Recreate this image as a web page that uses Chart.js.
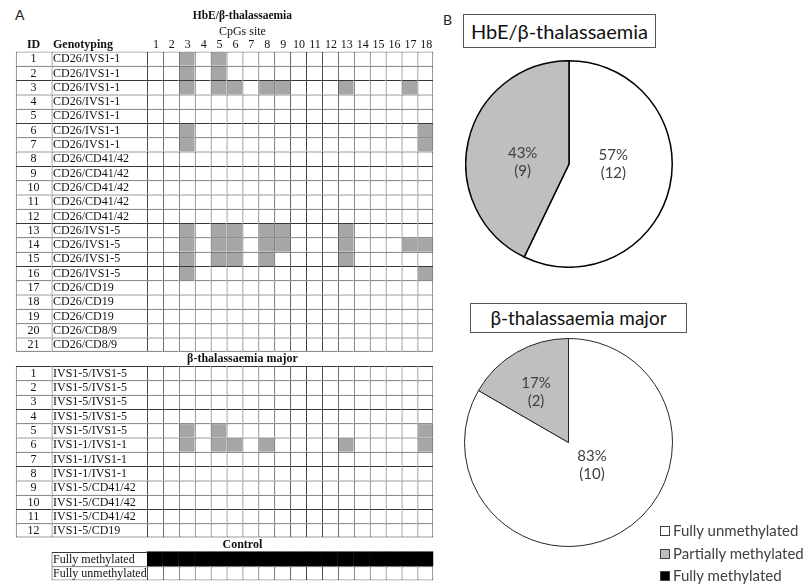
<!DOCTYPE html>
<html>
<head>
<meta charset="utf-8">
<title>Methylation of CpG sites</title>
<script src="https://cdn.jsdelivr.net/npm/chart.js@4.4.1/dist/chart.umd.min.js"></script>
<style>
  body { margin: 0; width: 803px; height: 585px; position: relative; overflow: hidden; background: #fff; font-family: Lato, "Open Sans", sans-serif; }
  .abs { position: absolute; }
  .panel { font-size: 14px; color: #222; }
  .pieTitle { border: 1px solid #555; box-sizing: border-box; color: #111; font-size: 20px; text-align: center; }
  #legend { left: 660px; top: 519px; font-size: 15px; color: #404040; }
  #legend div { height: 22.5px; line-height: 22px; white-space: nowrap; }
  #legend span.box { display: inline-block; width: 8px; height: 8px; border: 1px solid #404040; margin-right: 3px; vertical-align: 0px; }
</style>
</head>
<body>
<div class="abs panel" style="left:15px; top:6px;">A</div>
<div class="abs panel" style="left:443px; top:11px;">B</div>

<div class="abs" style="left:0; top:0; width:440px; height:585px;"><canvas id="table-chart"></canvas></div>

<div class="abs pieTitle" style="left:463px; top:14px; width:193px; height:34px; line-height:32px;">HbE/β-thalassaemia</div>
<div class="abs" style="left:465px; top:60px; width:208px; height:208px;"><canvas id="hbe-pie"></canvas></div>

<div class="abs pieTitle" style="left:470px; top:303px; width:217px; height:30px; line-height:28px; font-size:19px;">β-thalassaemia major</div>
<div class="abs" style="left:464px; top:338px; width:209px; height:209px;"><canvas id="beta-pie"></canvas></div>

<div class="abs" id="legend"></div>

<script>
// ---- data ----
const siteNumbers = [1, 2, 3, 4, 5, 6, 7, 8, 9, 10, 11, 12, 13, 14, 15, 16, 17, 18];

const hbeIds = [1, 2, 3, 4, 5, 6, 7, 8, 9, 10, 11, 12, 13, 14, 15, 16, 17, 18, 19, 20, 21];
const hbeGenotypes = [
  'CD26/IVS1-1', 'CD26/IVS1-1', 'CD26/IVS1-1', 'CD26/IVS1-1', 'CD26/IVS1-1', 'CD26/IVS1-1', 'CD26/IVS1-1',
  'CD26/CD41/42', 'CD26/CD41/42', 'CD26/CD41/42', 'CD26/CD41/42', 'CD26/CD41/42',
  'CD26/IVS1-5', 'CD26/IVS1-5', 'CD26/IVS1-5', 'CD26/IVS1-5',
  'CD26/CD19', 'CD26/CD19', 'CD26/CD19', 'CD26/CD8/9', 'CD26/CD8/9'
];
// partially methylated CpG sites per sample
const hbePartialSites = [
  [3, 5], [3, 5], [3, 5, 6, 8, 9, 13, 17], [], [], [3, 18], [3, 18],
  [], [], [], [], [],
  [3, 5, 6, 8, 9, 13], [3, 5, 6, 8, 9, 13, 17, 18], [3, 5, 6, 8, 13], [3, 18],
  [], [], [], [], []
];

const betaIds = [1, 2, 3, 4, 5, 6, 7, 8, 9, 10, 11, 12];
const betaGenotypes = [
  'IVS1-5/IVS1-5', 'IVS1-5/IVS1-5', 'IVS1-5/IVS1-5', 'IVS1-5/IVS1-5', 'IVS1-5/IVS1-5',
  'IVS1-1/IVS1-1', 'IVS1-1/IVS1-1', 'IVS1-1/IVS1-1',
  'IVS1-5/CD41/42', 'IVS1-5/CD41/42', 'IVS1-5/CD41/42', 'IVS1-5/CD19'
];
const betaPartialSites = [[], [], [], [], [3, 5, 18], [3, 5, 6, 8, 13, 18], [], [], [], [], [], []];

const controlLabels = ['Fully methylated', 'Fully unmethylated'];
const controlStatus = ['full', 'none'];

const pieLabels = ['Fully unmethylated', 'Partially methylated', 'Fully methylated'];
const hbeCounts = [12, 9, 0];
const betaCounts = [10, 2, 0];

// ---- styling ----
const pieColors = ['#ffffff', '#bfbfbf', '#000000'];
const cellFill = { none: '#ffffff', partial: '#a6a6a6', full: '#000000' };
const lineColor = '#383838';
const serif = '"Liberation Serif", "Times New Roman", serif';

// x units: ID column [-8.25,-6], genotype column [-6,0], CpG site s -> [s-1, s]
const ID_COL = [-8.25, -6];
const GENO_COL = [-6, 0];

// one row per category on the y axis
const rows = [];
hbeIds.forEach((id, i) => rows.push({
  kind: 'sample', id: id, text: hbeGenotypes[i], last: i === hbeIds.length - 1,
  status: s => hbePartialSites[i].includes(s) ? 'partial' : 'none'
}));
rows.push({ kind: 'title', text: 'β-thalassaemia major' });
betaIds.forEach((id, i) => rows.push({
  kind: 'sample', id: id, text: betaGenotypes[i], last: i === betaIds.length - 1,
  status: s => betaPartialSites[i].includes(s) ? 'partial' : 'none'
}));
rows.push({ kind: 'title', text: 'Control' });
controlLabels.forEach((t, i) => rows.push({
  kind: 'control', text: t, last: i === controlLabels.length - 1,
  status: () => controlStatus[i]
}));

function cellBorder(lastCol) {
  return function(ctx) {
    const r = rows[ctx.dataIndex];
    return { left: 1, top: 1, right: lastCol ? 1 : 0, bottom: r && r.last ? 1 : 0 };
  };
}

const tableDatasets = [];
tableDatasets.push({
  label: 'ID',
  data: rows.map(r => r.kind === 'sample' ? ID_COL : null),
  backgroundColor: '#ffffff',
  borderColor: lineColor,
  borderWidth: cellBorder(false)
});
tableDatasets.push({
  label: 'Genotyping',
  data: rows.map(r => r.kind !== 'title' ? GENO_COL : null),
  backgroundColor: '#ffffff',
  borderColor: lineColor,
  borderWidth: cellBorder(false)
});
siteNumbers.forEach((s, k) => {
  const isFull = r => r.status && r.status(s) === 'full';
  tableDatasets.push({
    label: 'CpG ' + s,
    data: rows.map(r => r.kind !== 'title' ? [s - 1, s] : null),
    backgroundColor: rows.map(r => r.status ? cellFill[r.status(s)] : '#ffffff'),
    borderColor: rows.map(r => isFull(r) ? '#000000' : lineColor),
    // solid black control row: let neighbouring cells overlap so no seams show
    inflateAmount: rows.map(r => isFull(r) ? 0.6 : 0),
    borderWidth: cellBorder(k === siteNumbers.length - 1)
  });
});

// text inside and above the table
const tableText = {
  id: 'tableText',
  afterDatasetsDraw(chart) {
    const ctx = chart.ctx;
    const x = chart.scales.x, y = chart.scales.y;
    const mid = x.getPixelForValue((GENO_COL[0] + siteNumbers.length) / 2);
    ctx.save();
    ctx.fillStyle = '#111';
    ctx.textBaseline = 'middle';

    ctx.font = 'bold 11.5px ' + serif;
    ctx.textAlign = 'center';
    ctx.fillText('HbE/β-thalassaemia', mid, 16);
    ctx.font = '12px ' + serif;
    ctx.fillText('CpGs site', mid, 32);

    const headY = 45;
    siteNumbers.forEach(s => ctx.fillText(String(s), x.getPixelForValue(s - 0.5) + 1, headY));
    ctx.font = 'bold 12px ' + serif;
    ctx.fillText('ID', x.getPixelForValue((ID_COL[0] + ID_COL[1]) / 2), headY);
    ctx.textAlign = 'left';
    ctx.fillText('Genotyping', x.getPixelForValue(GENO_COL[0]) + 1.5, headY);

    rows.forEach((r, i) => {
      const py = y.getPixelForValue(i) + 0.5;
      if (r.kind === 'title') {
        ctx.font = 'bold 12px ' + serif;
        ctx.textAlign = 'center';
        ctx.fillText(r.text, mid, py);
        return;
      }
      ctx.font = '12px ' + serif;
      if (r.kind === 'sample') {
        ctx.textAlign = 'center';
        ctx.fillText(String(r.id), x.getPixelForValue((ID_COL[0] + ID_COL[1]) / 2), py);
      }
      ctx.textAlign = 'left';
      ctx.fillText(r.text, x.getPixelForValue(GENO_COL[0]) + 1.5, py);
    });
    ctx.restore();
  }
};

new Chart(document.getElementById('table-chart'), {
  type: 'bar',
  data: { labels: rows.map((r, i) => 'row' + i), datasets: tableDatasets },
  options: {
    indexAxis: 'y',
    responsive: true,
    maintainAspectRatio: false,
    animation: false,
    events: [],
    layout: { padding: { top: 51.5, bottom: 4.5, left: 15.7, right: 6.7 } },
    datasets: {
      bar: { grouped: false, barPercentage: 1, categoryPercentage: 1, borderSkipped: false, inflateAmount: 0 }
    },
    scales: {
      x: { type: 'linear', min: ID_COL[0], max: siteNumbers.length, display: false },
      y: { type: 'category', display: false }
    },
    plugins: { legend: { display: false }, tooltip: { enabled: false } }
  },
  plugins: [tableText]
});

// percentage + count written in each slice
const sliceLabels = {
  id: 'sliceLabels',
  afterDatasetsDraw(chart, args, opts) {
    const ctx = chart.ctx;
    const values = chart.data.datasets[0].data;
    const total = values.reduce((a, b) => a + b, 0);
    const nudge = opts.nudge || [];
    ctx.save();
    ctx.fillStyle = '#404040';
    ctx.font = '15px Lato, "Open Sans", sans-serif';
    ctx.textAlign = 'center';
    ctx.textBaseline = 'middle';
    chart.getDatasetMeta(0).data.forEach((arc, i) => {
      const v = values[i];
      if (!v) return;
      const p = arc.getCenterPoint();
      const n = nudge[i] || [0, 0];
      ctx.fillText(Math.round(v / total * 100) + '%', p.x + n[0], p.y + n[1] - 9);
      ctx.fillText('(' + v + ')', p.x + n[0], p.y + n[1] + 9);
    });
    ctx.restore();
  }
};

function makePie(id, counts, edgeWidth, edgeColor, nudge) {
  return new Chart(document.getElementById(id), {
    type: 'pie',
    data: {
      labels: pieLabels,
      datasets: [{
        data: counts,
        backgroundColor: pieColors,
        borderColor: edgeColor,
        borderWidth: ctx => ctx.raw ? edgeWidth : 0
      }]
    },
    options: {
      responsive: true,
      maintainAspectRatio: false,
      animation: false,
      events: [],
      plugins: {
        legend: { display: false },
        tooltip: { enabled: false },
        sliceLabels: { nudge: nudge }
      }
    },
    plugins: [sliceLabels]
  });
}

makePie('hbe-pie', hbeCounts, 1.5, '#000000', [[-6, -11], [4, 10]]);
makePie('beta-pie', betaCounts, 1, '#262626', [[-2.5, -22.5], [-6.5, -5.5]]);

// shared legend
const legend = document.getElementById('legend');
pieLabels.forEach((label, i) => {
  const row = document.createElement('div');
  const box = document.createElement('span');
  box.className = 'box';
  box.style.background = pieColors[i];
  row.appendChild(box);
  row.appendChild(document.createTextNode(label));
  legend.appendChild(row);
});
</script>
</body>
</html>
